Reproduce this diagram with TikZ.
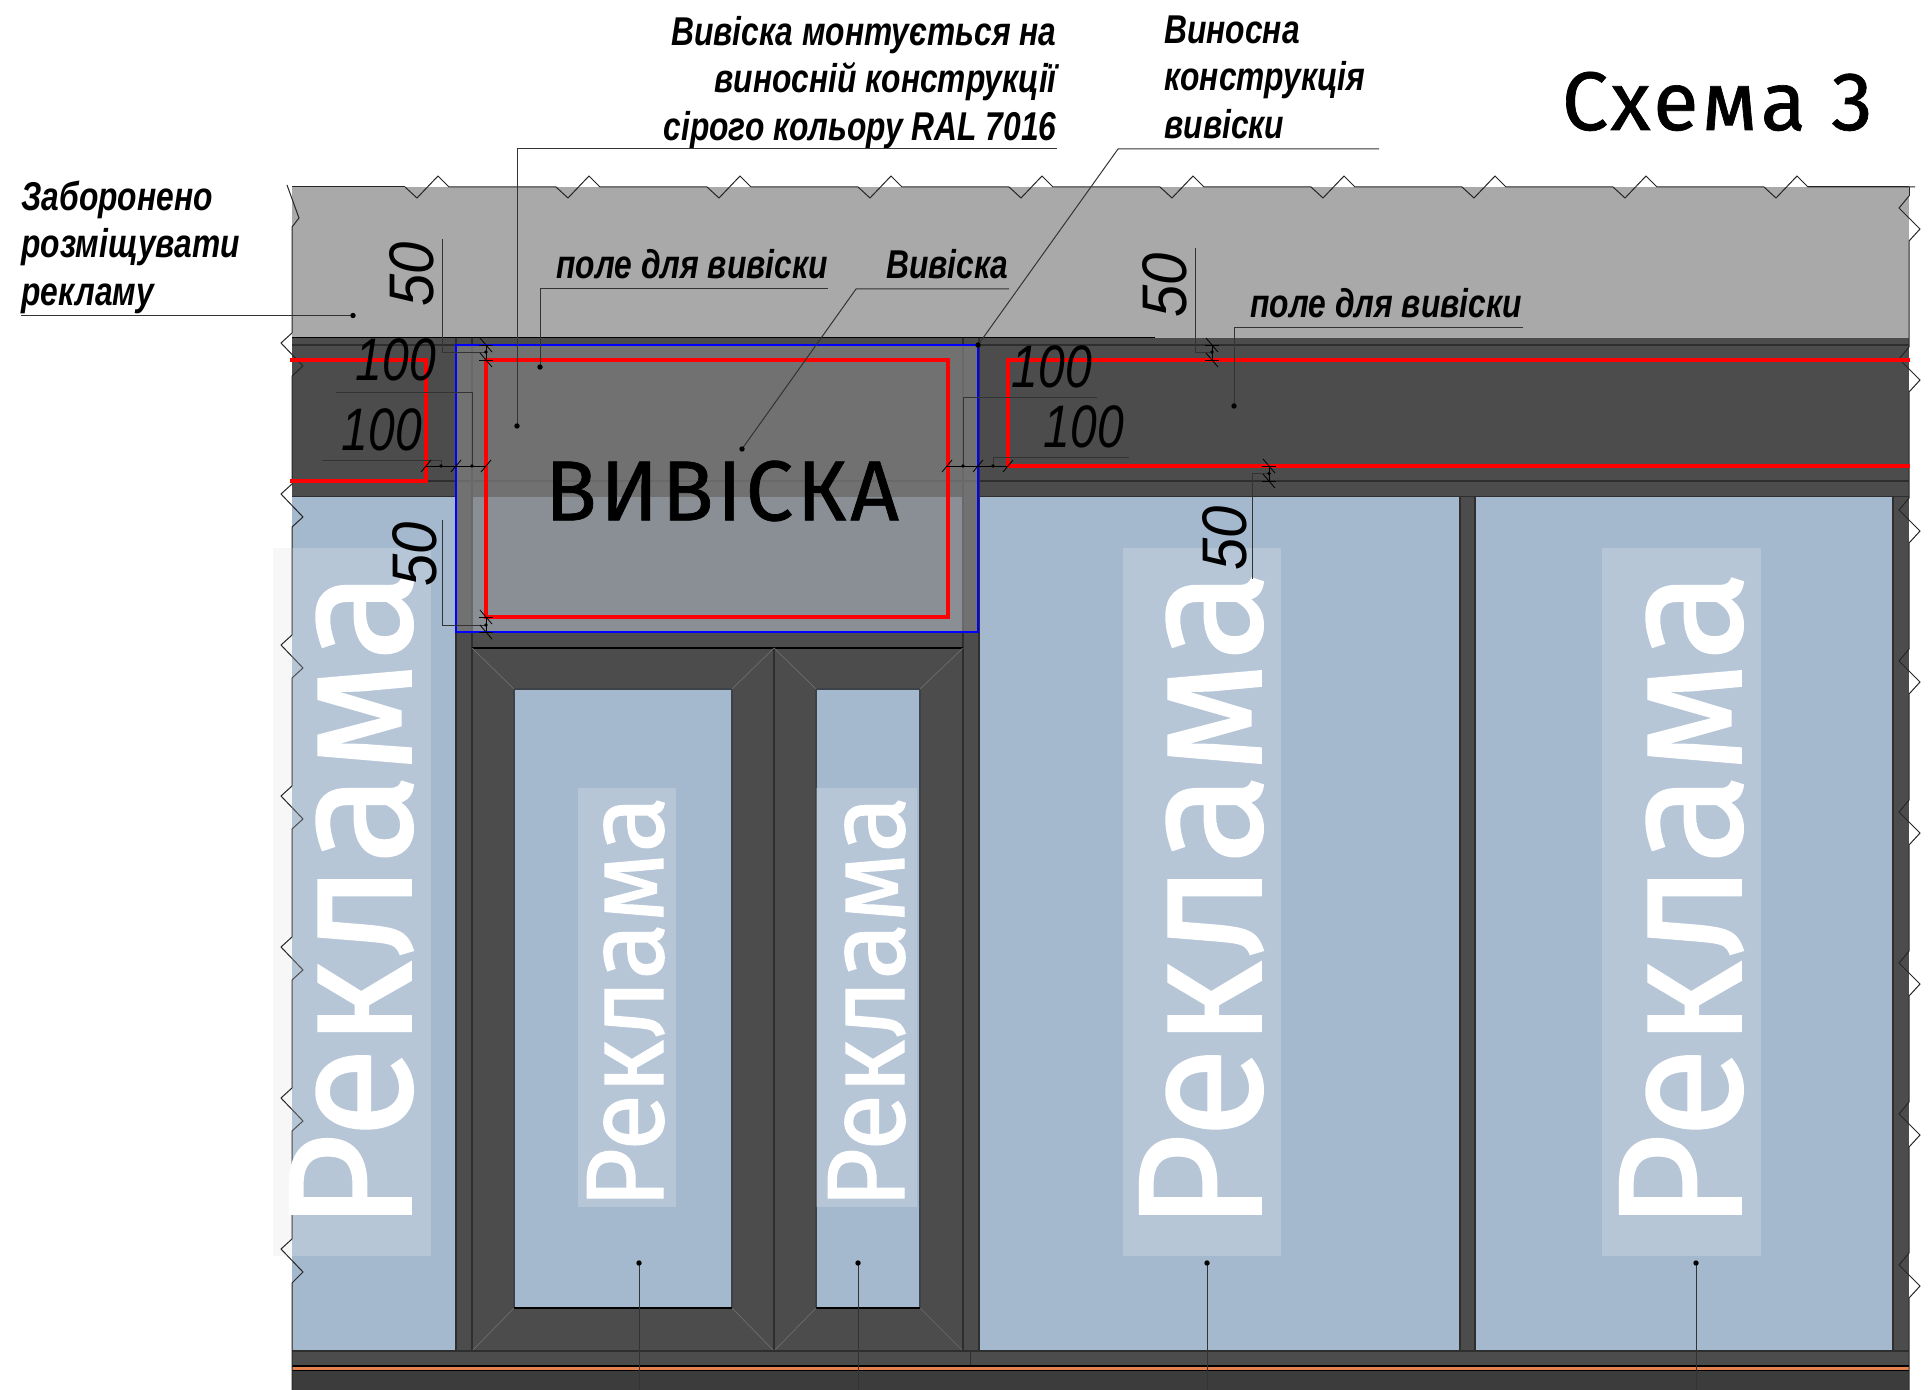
\documentclass[tikz,border=0pt]{standalone}
\usepackage{fontspec}
\setmainfont{Liberation Sans}
\newfontfamily\lblfont[FakeStretch=0.79]{Liberation Sans}
\newfontfamily\dimfont[FakeStretch=0.8]{Liberation Sans}
\newfontfamily\dimwide[FakeStretch=0.92]{Liberation Sans}
\newfontfamily\din[LetterSpace=4,FakeBold=0.8]{Fira Sans}
\newfontfamily\reklfont[FakeStretch=0.95,FakeBold=1]{Fira Sans}
\definecolor{wallgrey}{HTML}{A9A9A9}
\definecolor{dark}{HTML}{4C4C4C}
\definecolor{bottomdark}{HTML}{3C3C3C}
\definecolor{glass}{HTML}{A4B8CE}
\definecolor{orangeline}{HTML}{E5804F}
\definecolor{seam}{HTML}{2E2E2E}
\definecolor{glassedge}{HTML}{3C4248}
\definecolor{mitre}{HTML}{6E6E6E}
\definecolor{paleoff}{HTML}{F7F7F7}
\newcommand{\htickmark}[1]{\draw[ticked] ([shift={(-5,6)}]#1) -- ([shift={(5,-6)}]#1);}
\newcommand{\vtickmark}[1]{\draw[ticked] ([shift={(-6,-7)}]#1) -- ([shift={(6,7)}]#1);\draw[ticked] ([shift={(-7,0)}]#1) -- ([shift={(7,0)}]#1);}
\newcommand{\dotmark}[1]{\fill[black] (#1) circle[radius=1.35pt];}
\tikzset{
  lbl/.style={inner sep=0pt,font=\lblfont\bfseries\itshape\fontsize{20.1}{23.7}\selectfont},
  dimtext/.style={inner sep=0pt,anchor=center,font=\dimfont\itshape\fontsize{30}{30}\selectfont},
  dimturn/.style={inner sep=0pt,anchor=center,rotate=90,font=\dimwide\itshape\fontsize{31.5}{31.5}\selectfont},
  leader/.style={draw=black!80,line width=0.5pt},
  dimline/.style={draw=black!80,line width=0.45pt},
  ticked/.style={draw=black,line width=0.4pt},
  seamline/.style={draw=seam,line width=0.7pt},
  glassline/.style={draw=glassedge,line width=0.6pt},
  mitreline/.style={draw=mitre,line width=0.35pt},
  breakline/.style={draw=black!85,line width=0.5pt},
  redline/.style={draw=red,line width=1.7pt,line join=miter},
  blueline/.style={draw=blue,line width=0.75pt},
  pale/.style={fill=white,fill opacity=0.2},
  reklbig/.style={inner sep=0pt,rotate=90,anchor=base west,text=white,font=\reklfont\fontsize{88}{88}\selectfont},
  reklsmall/.style={inner sep=0pt,rotate=90,anchor=base west,text=white,font=\reklfont\fontsize{55}{55}\selectfont},
}
\begin{document}
\begin{tikzpicture}[x=0.5pt,y=-0.5pt]
\useasboundingbox (0,0) rectangle (1931,1390);
% walls
\fill[wallgrey] (292,187) rectangle (1909,338);
\fill[dark] (292,338) rectangle (1909,497);
\fill[glass] (292,497) rectangle (456,1351);
\fill[dark] (456,497) rectangle (979,1351);
\fill[glass] (979,497) rectangle (1460,1351);
\fill[dark] (1460,497) rectangle (1475,1351);
\fill[glass] (1475,497) rectangle (1893,1351);
\fill[dark] (1893,497) rectangle (1909,1351);
\fill[dark] (292,1351) rectangle (1909,1366);
\fill[bottomdark] (292,1370) rectangle (1909,1390);
\fill[orangeline] (292,1366) rectangle (1909,1370);
\fill[glass] (472,497) rectangle (963,632);
\fill[glass] (514,689) rectangle (732,1308);
\fill[glass] (816,689) rectangle (920,1308);
\fill[paleoff] (273,548) rectangle (292,1256);
% building lines
\draw[draw=black,line width=0.6pt] (292,337.5) -- (1155,337.5);
\draw[seamline] (292,345) -- (1909,345);
\draw[seamline] (426,481) -- (1909,481);
\draw[seamline] (292,496.5) -- (456,496.5) (979,496.5) -- (1909,496.5);
\draw[seamline] (456,338) -- (456,1351) (472,338) -- (472,1351) (963,338) -- (963,1351) (979,338) -- (979,1351);
\draw[seamline] (1460,497) -- (1460,1351) (1475,497) -- (1475,1351) (1893,497) -- (1893,1351);
\draw[seamline] (774,648) -- (774,1351);
\draw[draw=black,line width=0.6pt] (472,648) -- (963,648);
\draw[glassline] (514,689) rectangle (732,1308);
\draw[glassline] (816,689) rectangle (920,1308);
\draw[draw=black,line width=0.6pt] (514,1308) -- (732,1308) (816,1308) -- (920,1308);
\draw[mitreline] (472,648) -- (514,689) (732,689) -- (774,648) -- (816,689) (920,689) -- (963,648);
\draw[mitreline] (472,1351) -- (514,1308) (732,1308) -- (774,1351) -- (816,1308) (920,1308) -- (963,1351);
\draw[seamline] (292,1351) -- (1909,1351) (970.5,1351) -- (970.5,1366);
\draw[draw=black,line width=0.6pt] (292,1366) -- (1909,1366) (292,1370.5) -- (1909,1370.5);
% break marks
\draw[breakline] (287,185) -- (299,218) -- (292,227) -- (292,333);
\foreach \y in {343,494,645,796,947,1098}
  \draw[breakline] (292,\y-10) -- (281,\y) -- (303,\y+23) -- (292,\y+33) -- (292,\y+141);
\draw[breakline] (292,1239) -- (281,1249) -- (303,1272) -- (292,1283) -- (292,1390);
\draw[breakline] (1909,187) -- (1909,196);
\foreach \y in {208,359,510,661,812,963,1114,1265}
  \draw[breakline] (1909,\y-12) -- (1899,\y) -- (1920,\y+21) -- (1909,\y+33) -- (1909,\y+139);
\draw[breakline] (292,187) -- (405,187);
\foreach \x in {405,556,707,858,1009,1160,1311,1462,1613,1764}
  \draw[breakline] (\x,187) -- (\x+12,198) -- (\x+33,176) -- (\x+44,187) -- (\x+151,187);
\draw[breakline] (1808,187) -- (1909,187);
% pale advertising panels
\fill[pale] (292,548) rectangle (431,1256);
\fill[pale] (1123,548) rectangle (1281,1256);
\fill[pale] (1602,548) rectangle (1761,1256);
\fill[pale] (578,788) rectangle (676,1207);
\fill[pale] (816,788) rectangle (917,1207);
\node[reklbig] (rekl1) at (411,1231) {Реклама};
\node[reklbig] (rekl2) at (1261,1231) {Реклама};
\node[reklbig] (rekl3) at (1741,1231) {Реклама};
\node[reklsmall] (rekl4) at (663,1209) {Реклама};
\node[reklsmall] (rekl5) at (904,1209) {Реклама};
% sign
\fill[gray,fill opacity=0.72] (456,345) rectangle (978,632);
\draw[blueline] (456,345) rectangle (978,632);
\node[inner sep=0pt,font=\din\fontsize{42.6}{42.6}\selectfont] (sign) at (722,491) {ВИВІСКА};
\draw[redline] (486,360) rectangle (948,617);
\draw[redline] (290,360) -- (426,360) -- (426,481) -- (290,481);
\draw[redline] (1910,360) -- (1008,360) -- (1008,466) -- (1910,466);
% coordinates
\coordinate (dA) at (353,315.5);
\coordinate (dB) at (540,367);
\coordinate (dC) at (517,426);
\coordinate (dD) at (742,449);
\coordinate (dE) at (978,345);
\coordinate (dF) at (1234,406);
\coordinate (g1) at (639,1263);
\coordinate (g2) at (858,1263);
\coordinate (g3) at (1207,1263);
\coordinate (g4) at (1696,1263);
\coordinate (b1) at (639,1390);
\coordinate (b2) at (858,1390);
\coordinate (b3) at (1207,1390);
\coordinate (b4) at (1696,1390);
% labels
\node[lbl,align=left,anchor=south west] (forbid) at (21,314) {Заборонено\\розміщувати\\рекламу};
\node[lbl,anchor=base west] (field1) at (556,279) {поле для вивіски};
\node[lbl,anchor=base east] (signlbl) at (1009,279) {Вивіска};
\node[lbl,align=right,anchor=south east] (mount) at (1057,149) {Вивіска монтується на\\виносній конструкції\\сірого кольору RAL 7016};
\node[lbl,align=left,anchor=south west] (console) at (1164,139) {Виносна\\конструкція\\вивіски};
\node[lbl,anchor=base west] (field2) at (1250,318) {поле для вивіски};
\node[inner sep=0pt,anchor=base east,font=\din\fontsize{41.5}{41.5}\selectfont] (title) at (1873,130) {Схема 3};
% leaders
\coordinate (fa) at (21,315.5);
\coordinate (f1a) at (828,289);
\coordinate (f1b) at (540,289);
\coordinate (sa) at (1009,289);
\coordinate (sb) at (856,289);
\coordinate (ma) at (1057,149);
\coordinate (mb) at (517,149);
\coordinate (ca) at (1379,149);
\coordinate (cb) at (1118,149);
\coordinate (f2a) at (1523,328);
\coordinate (f2b) at (1234,328);
\draw[leader] (fa) -- (dA);
\draw[leader] (f1a) -- (f1b) -- (dB);
\draw[leader] (sa) -- (sb) -- (dD);
\draw[leader] (ma) -- (mb) -- (dC);
\draw[leader] (ca) -- (cb) -- (dE);
\draw[leader] (f2a) -- (f2b) -- (dF);
\draw[leader] (g1) -- (b1);
\draw[leader] (g2) -- (b2);
\draw[leader] (g3) -- (b3);
\draw[leader] (g4) -- (b4);
\foreach \d in {dA,dB,dC,dD,dE,dF,g1,g2,g3,g4} {\dotmark{\d}}
% dimension points
\coordinate (t1) at (486,345);
\coordinate (t1m) at (486,352);
\coordinate (t2) at (486,360);
\coordinate (t3) at (486,617);
\coordinate (t3m) at (486,625);
\coordinate (t4) at (486,632);
\coordinate (t5) at (1212,345);
\coordinate (t5m) at (1212,352);
\coordinate (t6) at (1212,360);
\coordinate (t7) at (1269,466);
\coordinate (t7m) at (1269,473.5);
\coordinate (t8) at (1269,481);
\coordinate (h1) at (426,466);
\coordinate (h1m) at (441,466);
\coordinate (h2) at (456,466);
\coordinate (h2m) at (472,466);
\coordinate (h3) at (486,466);
\coordinate (h4) at (947,466);
\coordinate (h4m) at (963,466);
\coordinate (h5) at (978,466);
\coordinate (h5m) at (993,466);
\coordinate (h6) at (1008,466);
\coordinate (e1) at (442,239);
\coordinate (e1b) at (442,352);
\coordinate (e2) at (336,392);
\coordinate (e2b) at (472,392);
\coordinate (e3) at (322,460);
\coordinate (e3b) at (441,460);
\coordinate (e4) at (442,520);
\coordinate (e4b) at (442,625);
\coordinate (e5) at (1195,248);
\coordinate (e5b) at (1195,352);
\coordinate (e6) at (1097,397);
\coordinate (e6b) at (963,397);
\coordinate (e7) at (1129,457);
\coordinate (e7b) at (993,457);
\coordinate (e8) at (1252,579);
\coordinate (e8b) at (1252,473.5);
\draw[dimline] (e1) -- (e1b) -- (t1m);
\draw[dimline] (e2) -- (e2b) -- (h2m);
\draw[dimline] (e3) -- (e3b) -- (h1m);
\draw[dimline] (e4) -- (e4b) -- (t3m);
\draw[dimline] (e5) -- (e5b) -- (t5m);
\draw[dimline] (e6) -- (e6b) -- (h4m);
\draw[dimline] (e7) -- (e7b) -- (h5m);
\draw[dimline] (e8) -- (e8b) -- (t7m);
\draw[ticked] (h1) -- (h3) (h4) -- (h6) (t1) -- (t2) (t3) -- (t4) (t5) -- (t6) (t7) -- (t8);
\foreach \d in {h1,h2,h3,h4,h5,h6} {\htickmark{\d}}
\foreach \d in {t1,t2,t3,t4,t5,t6,t7,t8} {\vtickmark{\d}}
\foreach \d in {t1m,t3m,t5m,t7m,h1m,h2m,h4m,h5m} {\fill[black] (\d) circle[radius=0.9pt];}
% dimension numbers
\node[dimturn] (n1) at (412,274) {50};
\node[dimtext] (n2) at (396,360) {100};
\node[dimtext] (n3) at (382,430) {100};
\node[dimturn] (n4) at (415,554) {50};
\node[dimturn] (n5) at (1165,285) {50};
\node[dimtext] (n6) at (1052,367) {100};
\node[dimtext] (n7) at (1084,427) {100};
\node[dimturn] (n8) at (1225,538) {50};
\end{tikzpicture}
\end{document}
